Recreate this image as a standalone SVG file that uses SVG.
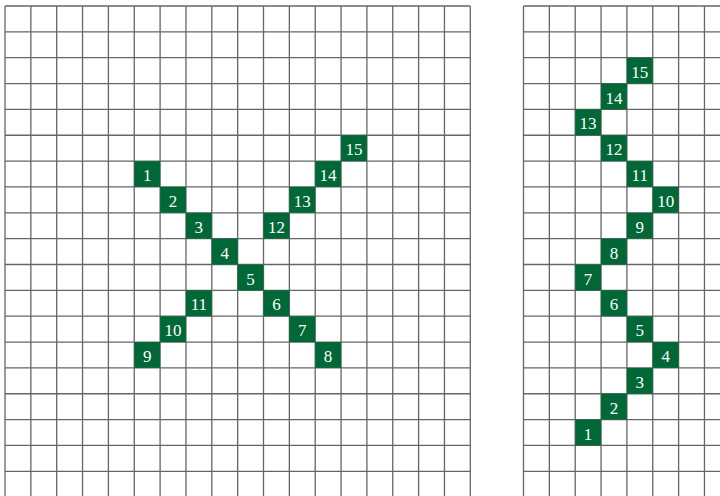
<svg xmlns="http://www.w3.org/2000/svg" width="720" height="496" viewBox="0 0 720 496">
<style>
.grid{fill:none;stroke:#666;stroke-width:1.3}
.c{fill:#006837}
.t{fill:#fff;font-family:"Liberation Serif",serif;font-size:17px;text-anchor:middle}
</style>
<rect width="720" height="496" fill="#fff"/>
<g id="grids">
<path class="grid" d="M5 6V497M30.85 6V497M56.7 6V497M82.55 6V497M108.4 6V497M134.25 6V497M160.1 6V497M185.95 6V497M211.8 6V497M237.65 6V497M263.5 6V497M289.35 6V497M315.2 6V497M341.05 6V497M366.9 6V497M392.75 6V497M418.6 6V497M444.45 6V497M470.3 6V497
M5 6H470.3M5 31.85H470.3M5 57.7H470.3M5 83.55H470.3M5 109.4H470.3M5 135.25H470.3M5 161.1H470.3M5 186.95H470.3M5 212.8H470.3M5 238.65H470.3M5 264.5H470.3M5 290.35H470.3M5 316.2H470.3M5 342.05H470.3M5 367.9H470.3M5 393.75H470.3M5 419.6H470.3M5 445.45H470.3M5 471.3H470.3"/>
<path class="grid" d="M523.5 6V497M549.35 6V497M575.2 6V497M601.05 6V497M626.9 6V497M652.75 6V497M678.6 6V497M704.45 6V497
M523.5 6H721M523.5 31.85H721M523.5 57.7H721M523.5 83.55H721M523.5 109.4H721M523.5 135.25H721M523.5 161.1H721M523.5 186.95H721M523.5 212.8H721M523.5 238.65H721M523.5 264.5H721M523.5 290.35H721M523.5 316.2H721M523.5 342.05H721M523.5 367.9H721M523.5 393.75H721M523.5 419.6H721M523.5 445.45H721M523.5 471.3H721"/>
</g>
<g id="connectors"></g>
<g id="L1" transform="translate(134.25,161.1)"><rect class="c" width="25.85" height="25.85"/><text class="t" x="12.9" y="20">1</text></g>
<g id="L2" transform="translate(160.1,186.95)"><rect class="c" width="25.85" height="25.85"/><text class="t" x="12.9" y="20">2</text></g>
<g id="L3" transform="translate(185.95,212.8)"><rect class="c" width="25.85" height="25.85"/><text class="t" x="12.9" y="20">3</text></g>
<g id="L4" transform="translate(211.8,238.65)"><rect class="c" width="25.85" height="25.85"/><text class="t" x="12.9" y="20">4</text></g>
<g id="L5" transform="translate(237.65,264.5)"><rect class="c" width="25.85" height="25.85"/><text class="t" x="12.9" y="20">5</text></g>
<g id="L6" transform="translate(263.5,290.35)"><rect class="c" width="25.85" height="25.85"/><text class="t" x="12.9" y="20">6</text></g>
<g id="L7" transform="translate(289.35,316.2)"><rect class="c" width="25.85" height="25.85"/><text class="t" x="12.9" y="20">7</text></g>
<g id="L8" transform="translate(315.2,342.05)"><rect class="c" width="25.85" height="25.85"/><text class="t" x="12.9" y="20">8</text></g>
<g id="L9" transform="translate(134.25,342.05)"><rect class="c" width="25.85" height="25.85"/><text class="t" x="12.9" y="20">9</text></g>
<g id="L10" transform="translate(160.1,316.2)"><rect class="c" width="25.85" height="25.85"/><text class="t" x="12.9" y="20">10</text></g>
<g id="L11" transform="translate(185.95,290.35)"><rect class="c" width="25.85" height="25.85"/><text class="t" x="12.9" y="20">11</text></g>
<g id="L12" transform="translate(263.5,212.8)"><rect class="c" width="25.85" height="25.85"/><text class="t" x="12.9" y="20">12</text></g>
<g id="L13" transform="translate(289.35,186.95)"><rect class="c" width="25.85" height="25.85"/><text class="t" x="12.9" y="20">13</text></g>
<g id="L14" transform="translate(315.2,161.1)"><rect class="c" width="25.85" height="25.85"/><text class="t" x="12.9" y="20">14</text></g>
<g id="L15" transform="translate(341.05,135.25)"><rect class="c" width="25.85" height="25.85"/><text class="t" x="12.9" y="20">15</text></g>
<g id="R15" transform="translate(626.9,57.7)"><rect class="c" width="25.85" height="25.85"/><text class="t" x="12.9" y="20">15</text></g>
<g id="R14" transform="translate(601.05,83.55)"><rect class="c" width="25.85" height="25.85"/><text class="t" x="12.9" y="20">14</text></g>
<g id="R13" transform="translate(575.2,109.4)"><rect class="c" width="25.85" height="25.85"/><text class="t" x="12.9" y="20">13</text></g>
<g id="R12" transform="translate(601.05,135.25)"><rect class="c" width="25.85" height="25.85"/><text class="t" x="12.9" y="20">12</text></g>
<g id="R11" transform="translate(626.9,161.1)"><rect class="c" width="25.85" height="25.85"/><text class="t" x="12.9" y="20">11</text></g>
<g id="R10" transform="translate(652.75,186.95)"><rect class="c" width="25.85" height="25.85"/><text class="t" x="12.9" y="20">10</text></g>
<g id="R9" transform="translate(626.9,212.8)"><rect class="c" width="25.85" height="25.85"/><text class="t" x="12.9" y="20">9</text></g>
<g id="R8" transform="translate(601.05,238.65)"><rect class="c" width="25.85" height="25.85"/><text class="t" x="12.9" y="20">8</text></g>
<g id="R7" transform="translate(575.2,264.5)"><rect class="c" width="25.85" height="25.85"/><text class="t" x="12.9" y="20">7</text></g>
<g id="R6" transform="translate(601.05,290.35)"><rect class="c" width="25.85" height="25.85"/><text class="t" x="12.9" y="20">6</text></g>
<g id="R5" transform="translate(626.9,316.2)"><rect class="c" width="25.85" height="25.85"/><text class="t" x="12.9" y="20">5</text></g>
<g id="R4" transform="translate(652.75,342.05)"><rect class="c" width="25.85" height="25.85"/><text class="t" x="12.9" y="20">4</text></g>
<g id="R3" transform="translate(626.9,367.9)"><rect class="c" width="25.85" height="25.85"/><text class="t" x="12.9" y="20">3</text></g>
<g id="R2" transform="translate(601.05,393.75)"><rect class="c" width="25.85" height="25.85"/><text class="t" x="12.9" y="20">2</text></g>
<g id="R1" transform="translate(575.2,419.6)"><rect class="c" width="25.85" height="25.85"/><text class="t" x="12.9" y="20">1</text></g>
</svg>
